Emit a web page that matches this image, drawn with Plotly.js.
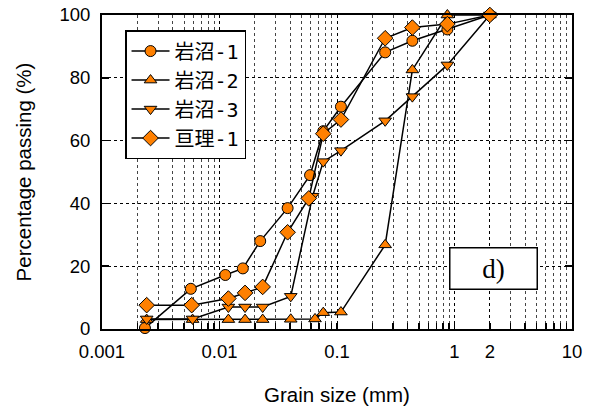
<!DOCTYPE html>
<html>
<head>
<meta charset="utf-8">
<script src="https://cdn.plot.ly/plotly-3.0.1.min.js"></script>
<style>html,body{margin:0;padding:0;background:#fff;}#chart{width:595px;height:411px;}</style>
</head>
<body>
<div id="chart"></div>
<script>
// Series names
const seriesNames = ["岩沼-1", "岩沼-2", "岩沼-3", "亘理-1"];

// Grain size (mm) and percentage passing (%) for each sample
const iwanuma1X = [0.00232, 0.0057, 0.0112, 0.0158, 0.0222, 0.038, 0.059, 0.0764, 0.108, 0.257, 0.438, 0.87, 2];
const iwanuma1Y = [0.3, 12.8, 17.2, 19.3, 28.0, 38.5, 49.0, 63.0, 70.8, 88.1, 91.8, 95.4, 100];

const iwanuma2X = [0.0024, 0.0059, 0.0119, 0.0165, 0.0233, 0.0404, 0.065, 0.0764, 0.108, 0.257, 0.438, 0.87, 2];
const iwanuma2Y = [3.0, 3.0, 3.0, 3.0, 3.0, 3.1, 3.2, 5.2, 5.4, 26.8, 82.5, 100, 100];

const iwanuma3X = [0.0024, 0.0059, 0.0119, 0.0165, 0.0233, 0.0404, 0.062, 0.0764, 0.108, 0.257, 0.438, 0.87, 2];
const iwanuma3Y = [3.2, 3.2, 7.0, 7.0, 7.0, 10.4, 42.3, 53.3, 56.8, 66.3, 74.0, 84.1, 100];

const watari1X = [0.0024, 0.0058, 0.0119, 0.0165, 0.0233, 0.038, 0.0575, 0.0764, 0.108, 0.257, 0.438, 0.87, 2];
const watari1Y = [7.6, 7.6, 9.7, 11.5, 13.4, 30.8, 41.6, 62.2, 66.7, 92.6, 96.0, 97.1, 100];

// Axis ticks
const xTickVals = [0.001, 0.01, 0.1, 1, 2, 10];
const xTickText = ["0.001", "0.01", "0.1", "1", "2", "10"];
const yTickVals = [0, 20, 40, 60, 80, 100];
const decades = [0.001, 0.01, 0.1, 1];
const minorMult = [2, 3, 4, 5, 6, 7, 8, 9];
const xMinorVals = [];
decades.forEach(d => minorMult.forEach(m => xMinorVals.push(d * m)));

const orange = "#ff8000";
const symbols = ["circle", "triangle-up", "triangle-down", "diamond"];
const sizes = [11, 11, 11, 12];
const xs = [iwanuma1X, iwanuma2X, iwanuma3X, watari1X];
const ys = [iwanuma1Y, iwanuma2Y, iwanuma3Y, watari1Y];

const traces = seriesNames.map((n, i) => ({
  x: xs[i], y: ys[i], name: n, type: "scatter", mode: "lines+markers",
  line: {color: "#000", width: 1.5},
  marker: {symbol: symbols[i], size: sizes[i], color: orange, line: {color: "#000", width: 1}},
  cliponaxis: false
}));

const sans = "Liberation Sans, Arial, sans-serif";
const tickFont = {family: sans, size: 18.5, color: "#000"};
const titleFont = {family: sans, size: 20.5, color: "#000"};

const layout = {
  width: 595, height: 411,
  margin: {l: 102, r: 23, t: 15, b: 82},
  paper_bgcolor: "#fff", plot_bgcolor: "#fff",
  showlegend: true,
  legend: {
    x: 0.049, y: 0.952, xanchor: "left", yanchor: "top",
    bgcolor: "#fff", bordercolor: "#000", borderwidth: 1.5,
    font: {family: "DejaVu Sans Mono, Noto Sans CJK JP, sans-serif", size: 20, color: "#000"},
    itemwidth: 38, tracegroupgap: 0
  },
  xaxis: {
    type: "log", range: [-3, 1],
    tickmode: "array", tickvals: xTickVals, ticktext: xTickText,
    ticks: "inside", ticklen: 6, tickwidth: 1.5, tickcolor: "#000",
    showline: true, linecolor: "#000", linewidth: 2, mirror: true,
    showgrid: true, gridcolor: "#000", griddash: "dot", gridwidth: 1,
    minor: {tickmode: "array", tickvals: xMinorVals, ticks: "inside", ticklen: 6, tickwidth: 1.5, tickcolor: "#000",
            showgrid: true, gridcolor: "#444", griddash: "dot", gridwidth: 1},
    tickfont: tickFont, zeroline: false, ticklabelstandoff: 5,
    title: {text: "Grain size (mm)", font: titleFont, standoff: 26}
  },
  yaxis: {
    range: [0, 100], tickmode: "array", tickvals: yTickVals,
    ticks: "inside", ticklen: 7, tickwidth: 1.5, tickcolor: "#000",
    showline: true, linecolor: "#000", linewidth: 2, mirror: "ticks",
    showgrid: true, gridcolor: "#000", griddash: "dot", gridwidth: 1,
    tickfont: tickFont, zeroline: false, ticklabelstandoff: 6,
    title: {text: "Percentage passing (%)", font: titleFont, standoff: 22}
  },
  annotations: [{
    xref: "paper", yref: "paper", x: 0.833, y: 0.193, xanchor: "center", yanchor: "middle",
    text: "d)", showarrow: false,
    font: {family: "Liberation Serif, Times New Roman, serif", size: 27, color: "#000"},
    bgcolor: "#fff", bordercolor: "#000", borderwidth: 1.5, width: 84, height: 38
  }]
};

Plotly.newPlot("chart", traces, layout, {displayModeBar: false, staticPlot: true});
</script>
</body>
</html>
